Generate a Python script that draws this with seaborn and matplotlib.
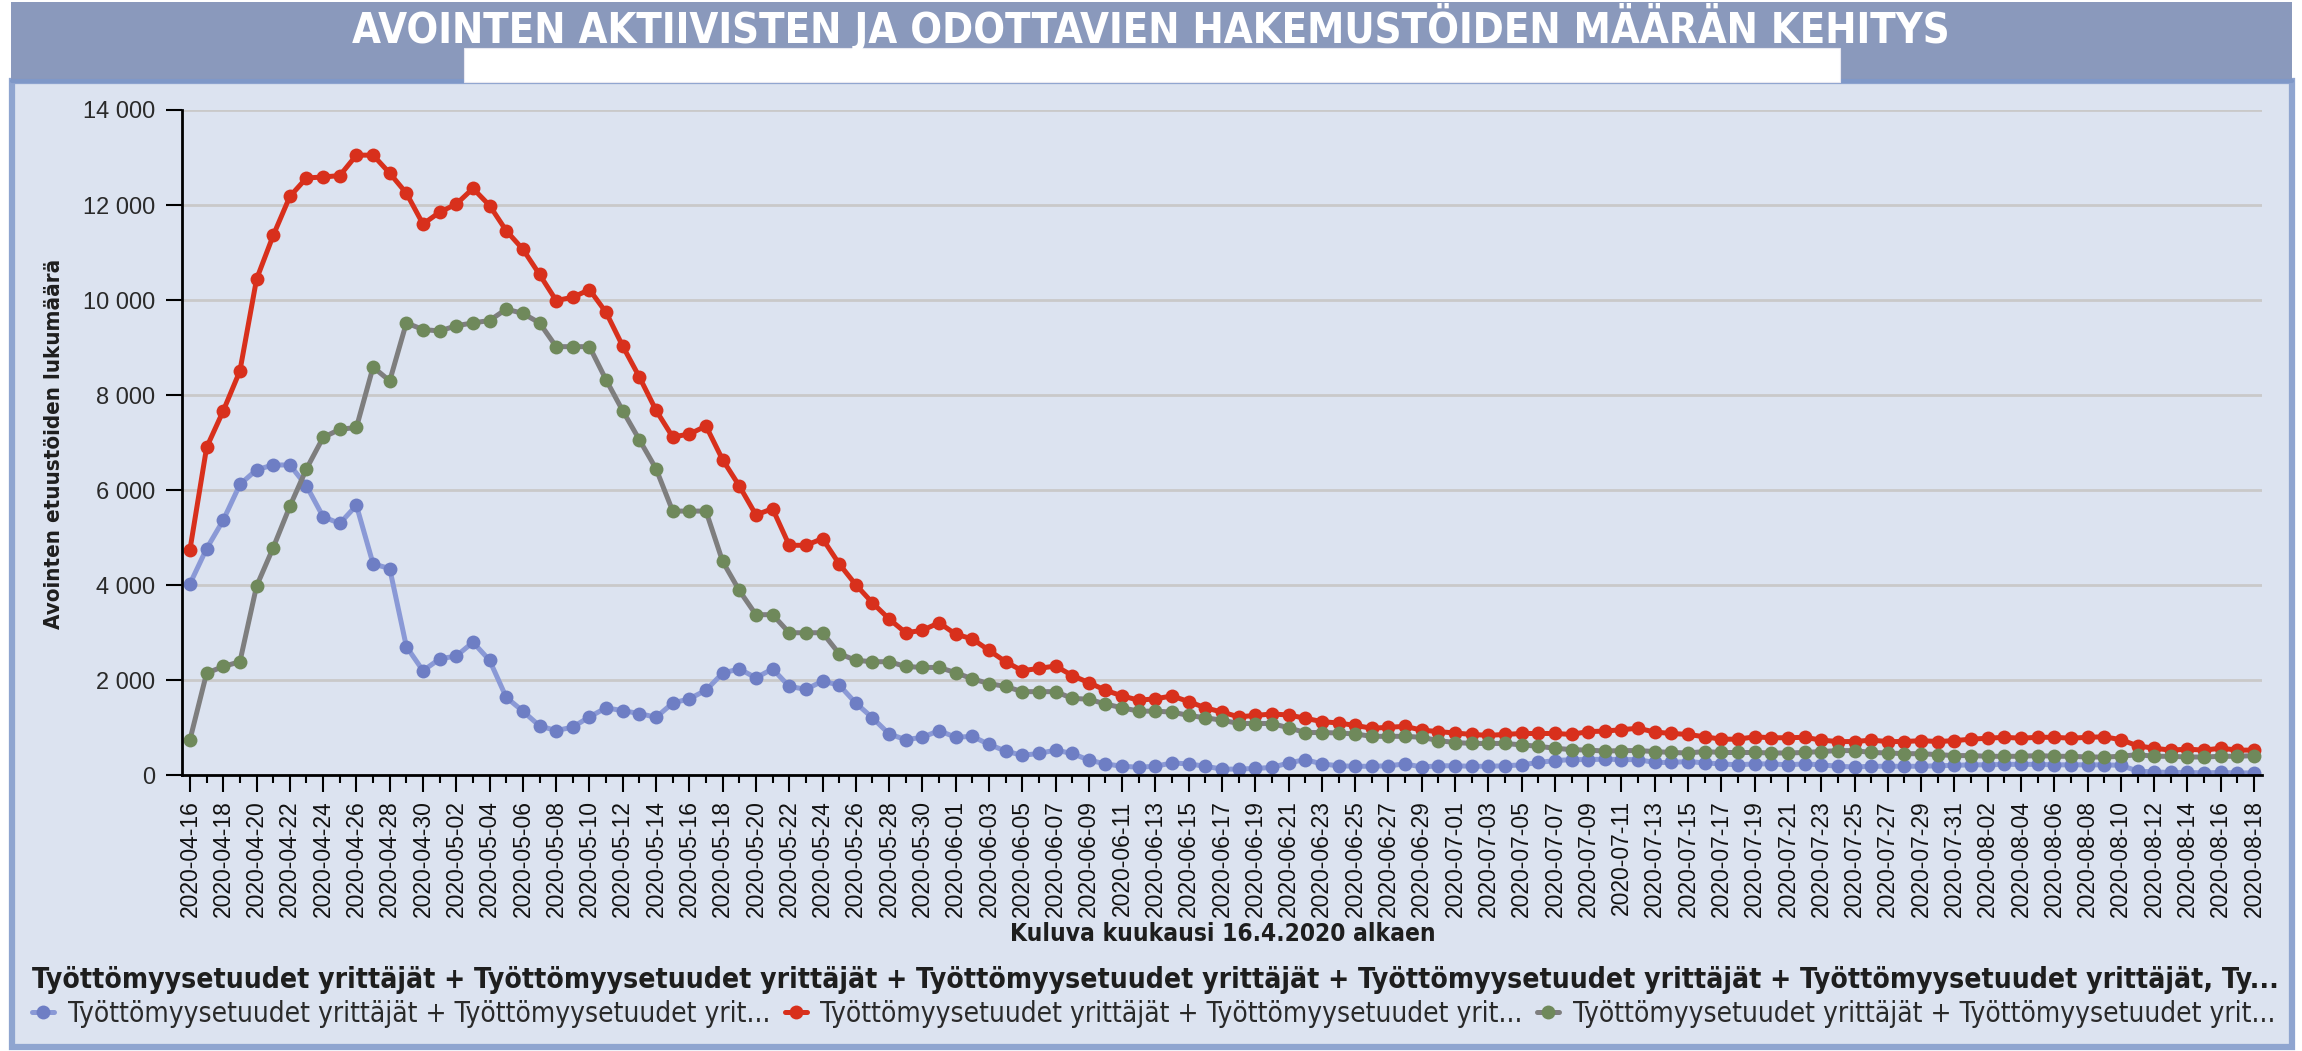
import matplotlib
matplotlib.use("Agg")
import numpy as np
import pandas as pd
import seaborn as sns
import matplotlib.pyplot as plt
from matplotlib import font_manager as fm
from matplotlib.font_manager import FontProperties
from matplotlib.lines import Line2D
from matplotlib.patches import Rectangle

# ---------------- data ----------------
start_date = "2020-04-16"
end_date = "2020-08-18"
dates = pd.date_range(start_date, end_date, freq="D")

blue_values = [
    4030, 4770, 5370, 6120, 6430, 6530, 6530, 6090, 5440, 5300,
    5680, 4450, 4350, 2710, 2200, 2450, 2510, 2800, 2420, 1640,
    1350, 1040, 940, 1015, 1230, 1420, 1360, 1300, 1220, 1520,
    1610, 1790, 2150, 2240, 2050, 2240, 1870, 1810, 1980, 1900,
    1520, 1210, 870, 750, 800, 940, 800, 820, 650, 510,
    420, 460, 530, 460, 320, 240, 190, 170, 190, 260,
    240, 190, 130, 130, 145, 165, 260, 330, 240, 200,
    190, 190, 200, 240, 175, 200, 200, 190, 190, 200,
    220, 270, 310, 330, 330, 340, 330, 330, 270, 270,
    290, 260, 240, 220, 240, 240, 220, 240, 220, 190,
    175, 190, 190, 190, 190, 200, 210, 220, 220, 230,
    230, 230, 220, 220, 220, 220, 210, 90, 70, 60,
    60, 50, 60, 50, 50,
]
red_values = [
    4750, 6900, 7670, 8510, 10440, 11360, 12180, 12570, 12590, 12620,
    13050, 13050, 12670, 12250, 11600, 11850, 12020, 12350, 11990, 11460,
    11070, 10540, 9990, 10060, 10220, 9740, 9030, 8380, 7680, 7120,
    7180, 7350, 6640, 6090, 5480, 5610, 4840, 4840, 4980, 4450,
    4010, 3630, 3290, 3000, 3050, 3210, 2970, 2870, 2630, 2390,
    2200, 2250, 2300, 2100, 1950, 1790, 1670, 1580, 1610, 1670,
    1550, 1420, 1330, 1230, 1260, 1290, 1270, 1200, 1130, 1100,
    1050, 990, 1010, 1030, 950, 920, 890, 860, 840, 860,
    880, 880, 880, 860, 920, 930, 960, 990, 910, 880,
    860, 810, 760, 760, 810, 790, 790, 800, 740, 710,
    710, 740, 710, 710, 730, 710, 730, 760, 780, 800,
    780, 800, 800, 780, 800, 810, 750, 620, 570, 530,
    550, 530, 570, 530, 530,
]
green_values = [
    750, 2150, 2290, 2390, 3980, 4790, 5660, 6450, 7110, 7280,
    7320, 8590, 8300, 9520, 9380, 9350, 9460, 9520, 9570, 9810,
    9720, 9520, 9020, 9020, 9020, 8320, 7670, 7060, 6450, 5560,
    5560, 5560, 4500, 3890, 3380, 3380, 3000, 3000, 3000, 2560,
    2420, 2390, 2390, 2290, 2270, 2270, 2160, 2030, 1930, 1870,
    1760, 1760, 1760, 1620, 1600, 1500, 1420, 1350, 1350, 1330,
    1260, 1210, 1160, 1090, 1090, 1090, 1000, 900, 900, 890,
    870, 820, 820, 820, 800, 730, 690, 670, 670, 670,
    640, 610, 570, 540, 530, 510, 520, 520, 500, 480,
    470, 500, 480, 480, 480, 470, 470, 480, 500, 520,
    520, 480, 470, 455, 455, 435, 415, 415, 400, 400,
    400, 415, 400, 400, 385, 385, 400, 435, 400, 400,
    385, 385, 400, 400, 415,
]

series_ids = ["sarja_1", "sarja_2", "sarja_3"]
legend_labels = ["Työttömyysetuudet yrittäjät + Työttömyysetuudet yrit..."] * 3
legend_title = ("Työttömyysetuudet yrittäjät + Työttömyysetuudet yrittäjät + "
                "Työttömyysetuudet yrittäjät + Työttömyysetuudet yrittäjät + "
                "Työttömyysetuudet yrittäjät, Ty...")
chart_title = "AVOINTEN AKTIIVISTEN JA ODOTTAVIEN HAKEMUSTÖIDEN MÄÄRÄN KEHITYS"
y_label = "Avointen etuustöiden lukumäärä"
x_label = "Kuluva kuukausi 16.4.2020 alkaen"
y_ticks = [0, 2000, 4000, 6000, 8000, 10000, 12000, 14000]
y_tick_labels = ["0", "2 000", "4 000", "6 000", "8 000", "10 000", "12 000", "14 000"]

line_colors = ["#8A99D6", "#D8301C", "#7E7E7E"]
marker_colors = ["#6E7EC4", "#D8301C", "#6F895B"]

df = pd.DataFrame({
    "päivä": np.tile(dates, 3),
    "arvo": blue_values + red_values + green_values,
    "sarja": np.repeat(series_ids, len(dates)),
})

# ---------------- style ----------------
sns.set_theme(style="white")
installed = {f.name for f in fm.fontManager.ttflist}
if "Liberation Sans Narrow" in installed:
    COND = dict(family="Liberation Sans Narrow", stretch="normal")
else:
    COND = dict(family="DejaVu Sans", stretch="condensed")
BASE = "Liberation Sans" if "Liberation Sans" in installed else "DejaVu Sans"
plt.rcParams["font.family"] = [BASE, "DejaVu Sans"]

W, H = 2302, 1051
fig = plt.figure(figsize=(W / 100, H / 100), dpi=100)
fig.patch.set_facecolor("white")
renderer = fig.canvas.get_renderer()


def fx(x):
    return x / W


def fy(y):
    return 1 - y / H


def rect(x0, y0, x1, y1, **kw):
    r = Rectangle((fx(x0), fy(y1)), (x1 - x0) / W, (y1 - y0) / H,
                  transform=fig.transFigure, **kw)
    fig.add_artist(r)
    return r


def fit_size(text, target, props):
    t = fig.text(0, 0, text, fontproperties=FontProperties(size=20, **props))
    w = t.get_window_extent(renderer).width
    t.remove()
    return 20 * target / w


# background panels
rect(12, 81, 2292, 1047, facecolor="#DCE3F0", edgecolor="#8FA5D0", linewidth=4.5, zorder=-10)
rect(11, 2, 2292, 80, facecolor="#8A99BC", edgecolor="none", zorder=-9)
fig.add_artist(Line2D([fx(12), fx(2292)], [fy(81), fy(81)], transform=fig.transFigure,
                      color="#7F98C8", linewidth=3, zorder=-8))
rect(464, 48, 1840, 82, facecolor="white", edgecolor="#E8E8F0", linewidth=0.8, zorder=-7)

# title
tb = dict(weight="bold", **COND)
ts = fit_size(chart_title, 1600, tb)
fig.text(fx(1151), fy(27), chart_title, ha="center", va="center", color="white",
         fontproperties=FontProperties(size=ts, **tb))

# ---------------- axes ----------------
ax = fig.add_axes([fx(182), fy(775.3), (2262 - 182) / W, (775.3 - 110) / H])
ax.set_facecolor("none")
for sid, lc, mc in zip(series_ids, line_colors, marker_colors):
    sub = df[df["sarja"] == sid]
    sns.lineplot(data=sub, x="päivä", y="arvo", color=lc, linewidth=3.6,
                 marker="o", markersize=10, markerfacecolor=mc,
                 markeredgecolor=mc, markeredgewidth=0, ax=ax, legend=False,
                 errorbar=None)

ax.set_ylim(0, 14000)
ax.set_yticks(y_ticks)
ax.set_yticklabels(y_tick_labels)
ax.set_xlim(dates[0] - pd.Timedelta(hours=11.5), dates[-1] + pd.Timedelta(hours=11.5))
ax.set_xticks(dates[::2])
ax.set_xticklabels([d.strftime("%Y-%m-%d") for d in dates[::2]], rotation=90)
ax.set_xticks(dates[1::2], minor=True)

ax.grid(axis="y", color="#C9C9C9", linewidth=2)
ax.grid(axis="x", visible=False)
ax.set_axisbelow(True)
for s in ["top", "right"]:
    ax.spines[s].set_visible(False)
for s in ["left", "bottom"]:
    ax.spines[s].set_color("black")
    ax.spines[s].set_linewidth(2)

ax.tick_params(axis="y", which="major", left=True, length=11.5, width=1.5, pad=8,
               labelsize=17, color="black", labelcolor="#2A2A2A")
ax.tick_params(axis="x", which="major", bottom=True, length=12, width=1.5, pad=6,
               labelsize=16.5, color="black", labelcolor="#111111")
ax.tick_params(axis="x", which="minor", bottom=True, length=6, width=1.5, color="black")

lb = dict(weight="bold", **COND)
ys = fit_size(y_label, 370, lb)
ax.set_ylabel(y_label, fontproperties=FontProperties(size=ys, **lb), color="#1E1E1E")
ax.yaxis.label.set_va("center")
ax.yaxis.set_label_coords((54 - 182) / 2080, 0.498)
xs = fit_size(x_label, 425, lb)
ax.set_xlabel(x_label, fontproperties=FontProperties(size=xs, **lb), color="#1E1E1E")
ax.xaxis.label.set_va("center")
ax.xaxis.set_label_coords((1223 - 182) / 2080, (775.3 - 934) / 665.3)

# ---------------- legend ----------------
lr = dict(weight="normal", **COND)
leg_fs = fit_size(legend_labels[0], 699, lr)
tit_fs = fit_size(legend_title, 2241, lb)
fs_px = leg_fs * 100 / 72
handles = [Line2D([], [], color=lc, linewidth=3.6, marker="o", markersize=10,
                  markerfacecolor=mc, markeredgecolor=mc, markeredgewidth=0)
           for lc, mc in zip(line_colors, marker_colors)]


def make_legend(anchor_y, spacing):
    return fig.legend(handles, legend_labels, ncol=3, loc="upper left",
                      bbox_to_anchor=(fx(32), fy(anchor_y)), frameon=False,
                      prop=FontProperties(size=leg_fs, **lr),
                      title=legend_title,
                      title_fontproperties=FontProperties(size=tit_fs, **lb),
                      alignment="left", handlelength=22 / fs_px,
                      handletextpad=14 / fs_px, columnspacing=14 / fs_px,
                      borderpad=0, borderaxespad=0, labelspacing=spacing)


anchor_y, spacing = 962.0, 0.3
for _ in range(3):
    leg = make_legend(anchor_y, spacing)
    fig.canvas.draw()
    tbb = leg.get_title().get_window_extent(renderer)
    ebb = leg.get_texts()[0].get_window_extent(renderer)
    t_c = H - (tbb.y0 + tbb.y1) / 2
    e_c = H - (ebb.y0 + ebb.y1) / 2
    leg.remove()
    anchor_y += 980 - t_c
    spacing += ((1014 - 980) - (e_c - t_c)) / fs_px
leg = make_legend(anchor_y, spacing)
for t in leg.get_texts():
    t.set_color("#2A2A2A")
leg.get_title().set_color("#1E1E1E")

fig.savefig("out.png", dpi=100, facecolor="white")
